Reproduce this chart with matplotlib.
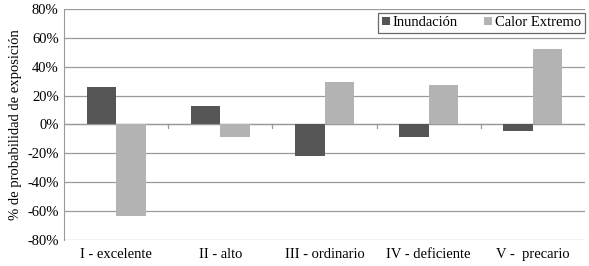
import numpy as np
import matplotlib.pyplot as plt
from matplotlib.ticker import FuncFormatter

categorias = ['I - excelente', 'II - alto', 'III - ordinario', 'IV - deficiente', 'V -  precario']
inundacion = [26, 12.5, -21.5, -8.5, -4.5]
calor_extremo = [-63.5, -8.5, 29.5, 27.5, 52]

plt.rcParams['font.family'] = ['Liberation Serif', 'DejaVu Serif']

fig = plt.figure(figsize=(5.89, 2.66), dpi=100)
ax = fig.add_axes([0.109, 0.098, 0.884, 0.868])

x = np.arange(len(categorias))
ancho = 0.283
ax.bar(x - ancho / 2, inundacion, ancho, color='#555555', label='Inundación', zorder=3)
ax.bar(x + ancho / 2, calor_extremo, ancho, color='#b3b3b3', label='Calor Extremo', zorder=3)

ax.set_xlim(-0.5, len(categorias) - 0.5)
ax.set_ylim(-80, 80)
ax.set_yticks(np.arange(-80, 81, 20))
ax.yaxis.set_major_formatter(FuncFormatter(lambda v, p: '%d%%' % v))
ax.grid(axis='y', color='#999999', lw=0.9, zorder=0)
ax.axhline(0, color='#999999', lw=0.9, zorder=2)

# marcas de categoría bajo la línea del cero
for b in np.arange(0.5, len(categorias), 1.0):
    ax.plot([b, b], [-2.5, 0], color='#999999', lw=0.9, zorder=2)

ax.set_xticks(x)
ax.set_xticklabels(categorias, fontsize=10.5)
ax.tick_params(axis='x', length=0, pad=6)
ax.tick_params(axis='y', length=0, labelsize=10.5, pad=4)
for s in ['top', 'right', 'bottom']:
    ax.spines[s].set_visible(False)
ax.spines['left'].set_color('#999999')

ax.set_ylabel('% de probabilidad de exposición', fontsize=10.5, labelpad=4)

leg = ax.legend(loc='upper right', ncol=2, fontsize=10.5, frameon=True, fancybox=False,
                bbox_to_anchor=(1.0, 0.985), handlelength=0.55, handleheight=0.55,
                handletextpad=0.2, columnspacing=1.8, borderpad=0.25, borderaxespad=0)
leg.get_frame().set_edgecolor('#444444')
leg.get_frame().set_linewidth(0.9)

fig.savefig('out.png', dpi=100)
